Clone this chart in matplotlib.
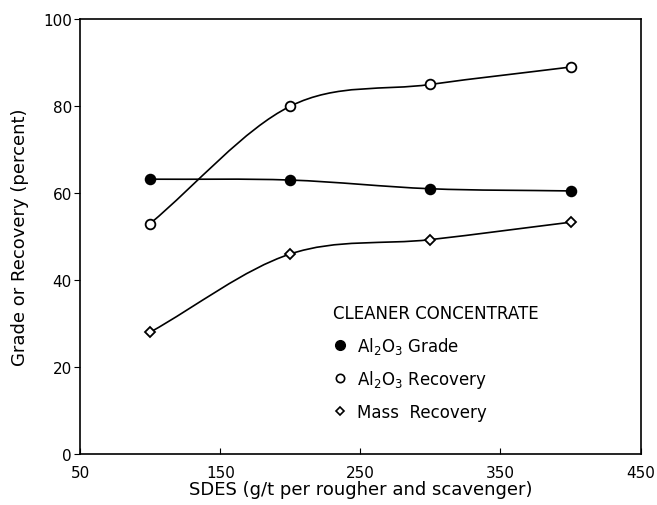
import numpy as np
import matplotlib.pyplot as plt
from matplotlib.path import Path
from matplotlib.patches import PathPatch
from matplotlib.lines import Line2D

# SDES dosage (g/t) and results
sdes = [100, 200, 300, 400]
al2o3_grade = [63.2, 63.0, 61.0, 60.5]
al2o3_recovery = [53.0, 80.0, 85.0, 89.0]
mass_recovery = [28.0, 46.0, 49.3, 53.3]

xticks = [50, 150, 250, 350, 450]
yticks = [0, 20, 40, 60, 80, 100]


def smooth_path(x, y):
    # catmull-rom through the points, drawn as bezier segments
    x = np.asarray(x, float)
    y = np.asarray(y, float)
    px = np.concatenate([[2 * x[0] - x[1]], x, [2 * x[-1] - x[-2]]])
    py = np.concatenate([[2 * y[0] - y[1]], y, [2 * y[-1] - y[-2]]])
    verts = [(x[0], y[0])]
    codes = [Path.MOVETO]
    for i in range(1, len(px) - 2):
        c1 = (px[i] + (px[i + 1] - px[i - 1]) / 6, py[i] + (py[i + 1] - py[i - 1]) / 6)
        c2 = (px[i + 1] - (px[i + 2] - px[i]) / 6, py[i + 1] - (py[i + 2] - py[i]) / 6)
        verts += [c1, c2, (px[i + 1], py[i + 1])]
        codes += [Path.CURVE4] * 3
    return Path(verts, codes)


fig = plt.figure(figsize=(6.57, 5.06), dpi=100)
ax = fig.add_axes([0.122, 0.101, 0.853, 0.859])

for ys, mk, fc in [(al2o3_grade, 'o', 'black'),
                   (al2o3_recovery, 'o', 'white'),
                   (mass_recovery, 'D', 'white')]:
    ax.add_patch(PathPatch(smooth_path(sdes, ys), facecolor='none',
                           edgecolor='black', lw=1.2, zorder=2))
    ax.plot(sdes, ys, ls='none', marker=mk, ms=7 if mk == 'o' else 5.5,
            mfc=fc, mec='black', mew=1.3, zorder=3)

ax.set_xlim(50, 450)
ax.set_ylim(0, 100)
ax.set_xticks(xticks)
ax.set_yticks(yticks)
ax.tick_params(axis='x', direction='in', length=4, labelsize=11, pad=8)
ax.tick_params(axis='y', direction='out', length=4, labelsize=11, pad=2)
for s in ax.spines.values():
    s.set_linewidth(1.2)

ax.set_xlabel('SDES (g/t per rougher and scavenger)', fontsize=13, labelpad=0)
ax.set_ylabel('Grade or Recovery (percent)', fontsize=13, labelpad=10)

handles = [
    Line2D([], [], ls='none', marker='o', ms=7, mfc='black', mec='black'),
    Line2D([], [], ls='none', marker='o', ms=6, mfc='white', mec='black', mew=1.2),
    Line2D([], [], ls='none', marker='D', ms=4.5, mfc='white', mec='black', mew=1.2),
]
labels = [r'Al$_2$O$_3$ Grade', r'Al$_2$O$_3$ Recovery', 'Mass  Recovery']
leg = ax.legend(handles, labels, title='CLEANER CONCENTRATE', loc='lower left',
                bbox_to_anchor=(0.425, 0.042), frameon=False, fontsize=12,
                title_fontsize=12, handlelength=0.8, handletextpad=0.6,
                labelspacing=0.75)
leg._legend_box.align = 'left'

fig.savefig('out.png', dpi=100)
